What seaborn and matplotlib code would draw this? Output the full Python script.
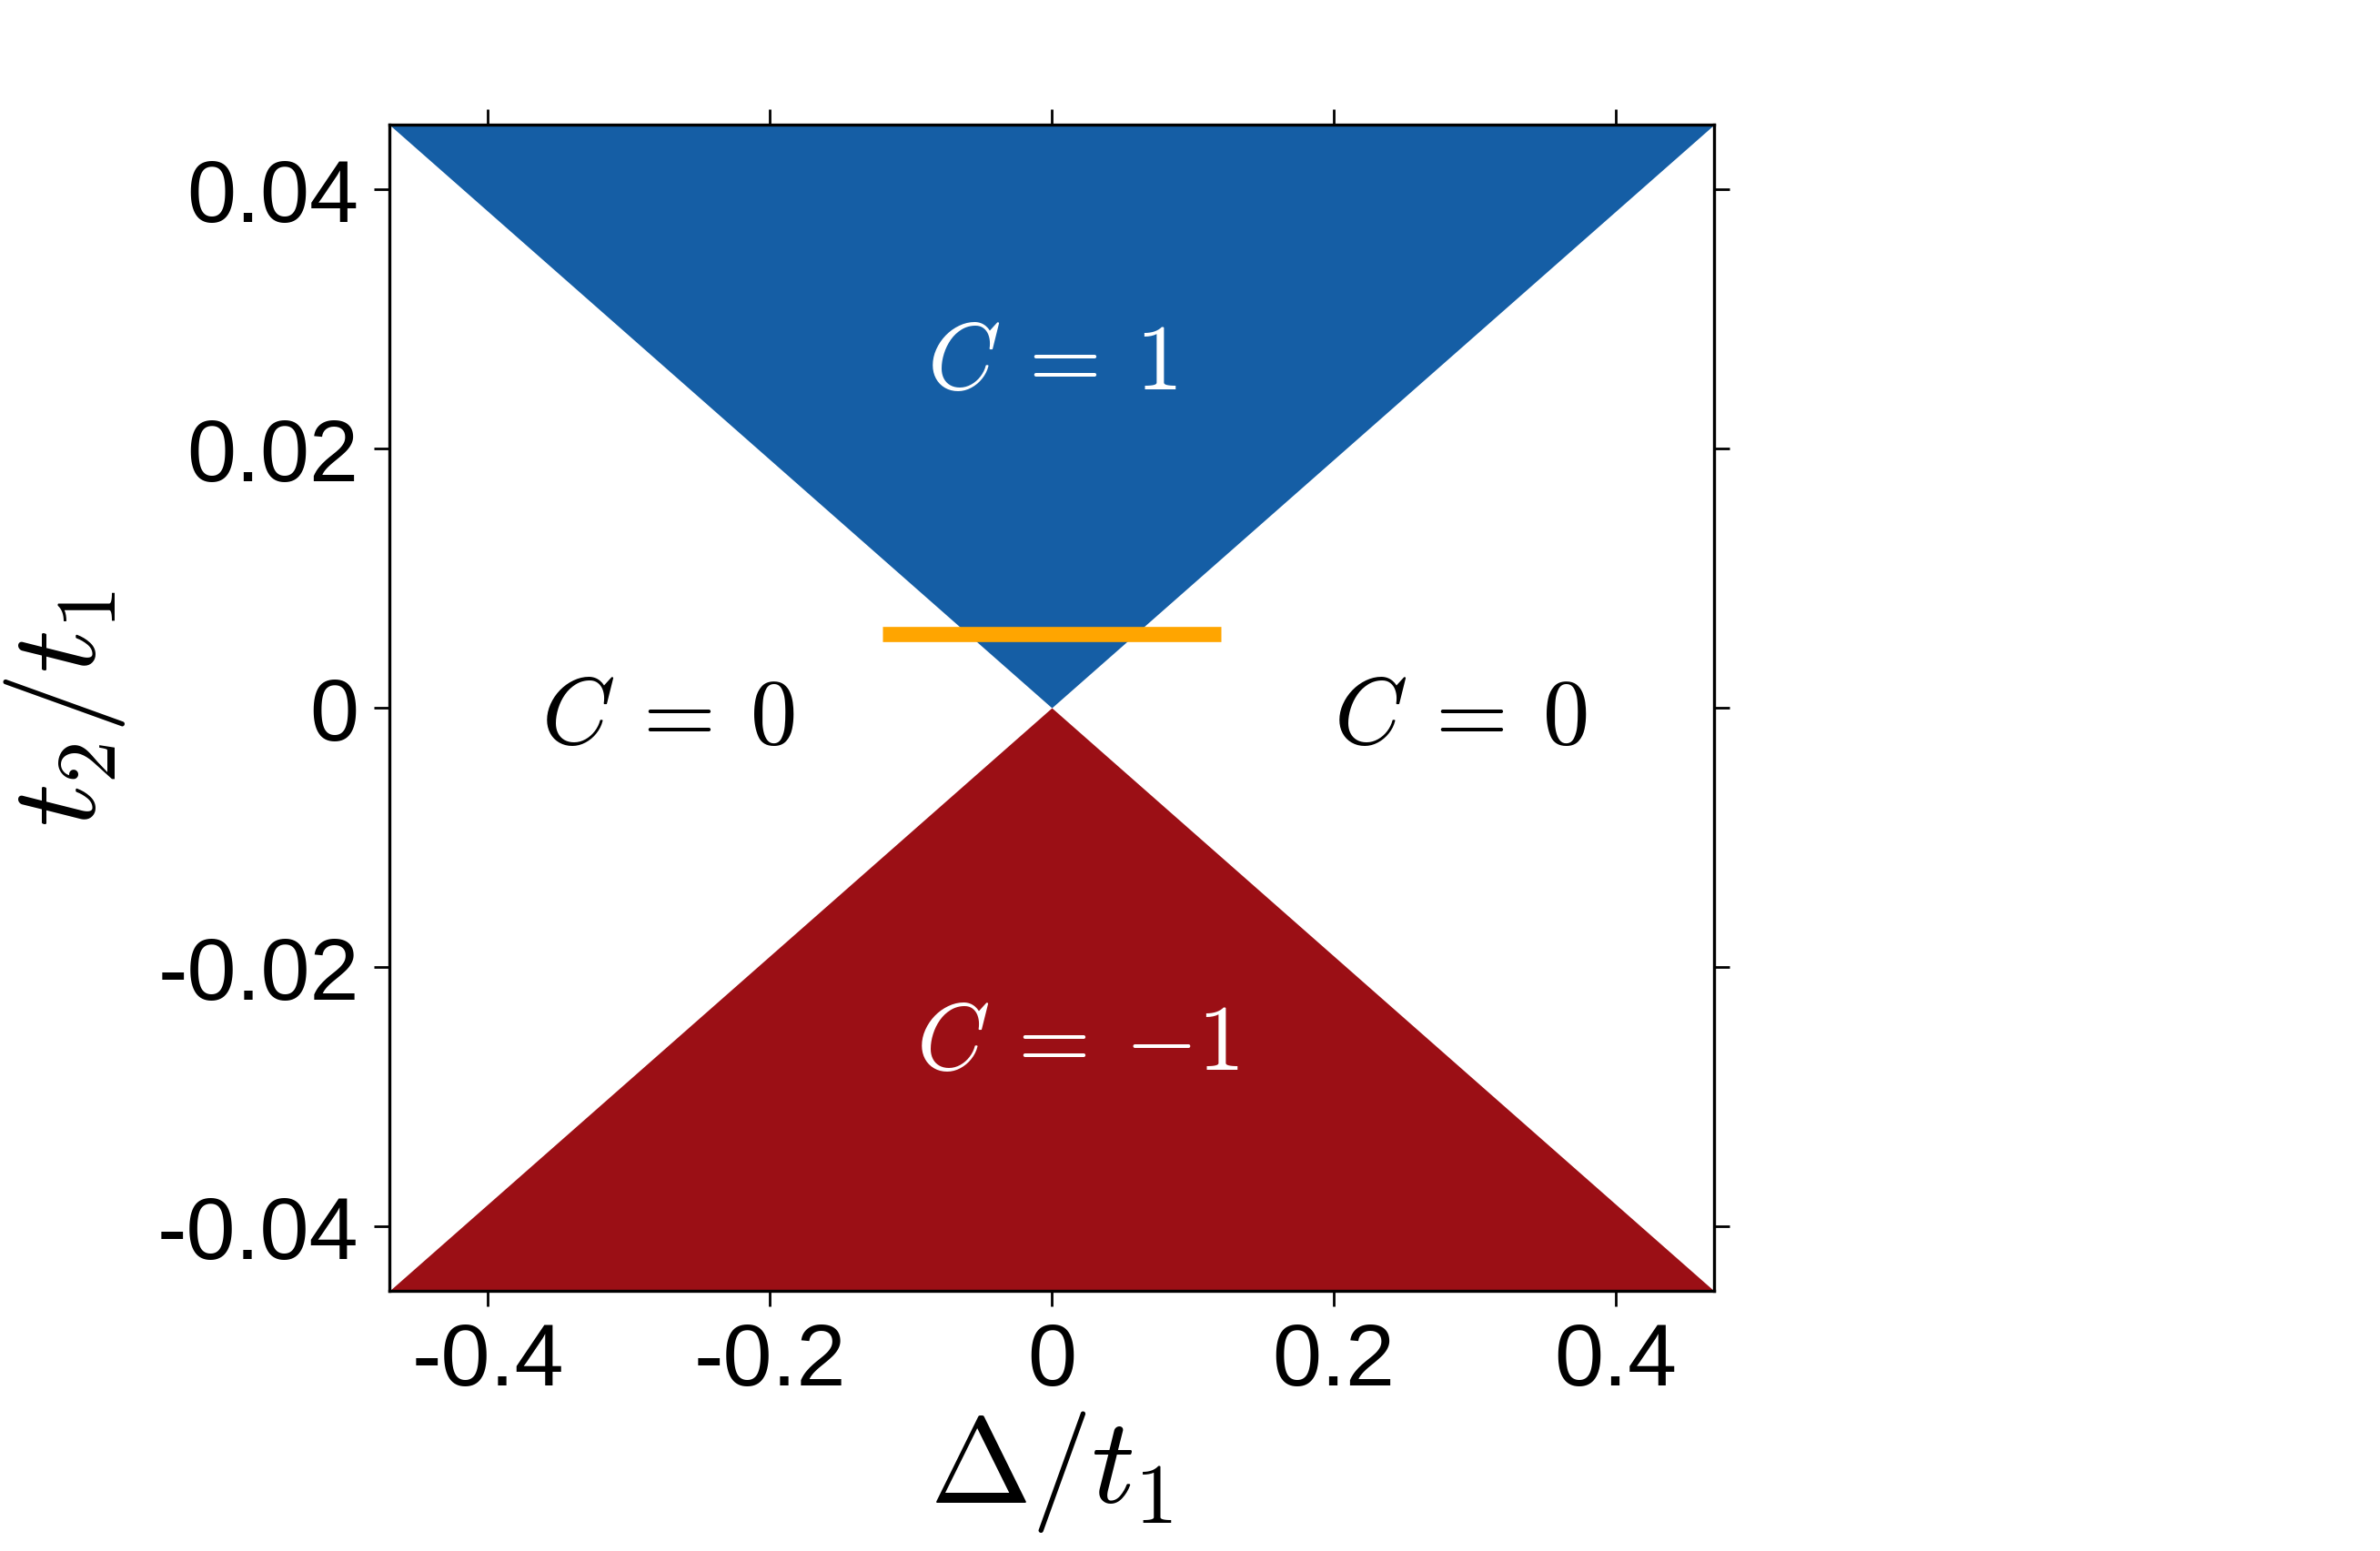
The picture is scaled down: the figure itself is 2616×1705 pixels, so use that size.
import matplotlib
matplotlib.use("Agg")
import matplotlib.pyplot as plt
import seaborn as sns
import numpy as np
import pandas as pd

# ---- data ----
delta_edges = [-0.47, 0.0, 0.47]          # Δ/t1 at the phase-boundary vertices
boundary_t2 = [0.045, 0.0, 0.045]         # |t2/t1| on the phase boundary
t2_limit = 0.045
cut_delta = [-0.12, 0.12]                 # orange cut
cut_t2 = [0.0057, 0.0057]
xticks = [-0.4, -0.2, 0.0, 0.2, 0.4]
xticklabels = ["-0.4", "-0.2", "0", "0.2", "0.4"]
yticks = [-0.04, -0.02, 0.0, 0.02, 0.04]
yticklabels = ["-0.04", "-0.02", "0", "0.02", "0.04"]
label_text = [r"$C\:=\:1$", r"$C\:=\:0$", r"$C\:=\:0$", r"$C\:=\:{-}1$"]
label_x = [0.0, -0.272, 0.29, 0.018]
label_y = [0.0265, -0.0009, -0.0009, -0.026]
label_color = ["white", "black", "black", "white"]

sns.set_style("ticks")
plt.rcParams["font.family"] = ["Liberation Sans", "DejaVu Sans"]
plt.rcParams["mathtext.fontset"] = "cm"
plt.rcParams["axes.unicode_minus"] = False
plt.rcParams["text.color"] = "black"
plt.rcParams["axes.labelcolor"] = "black"
plt.rcParams["xtick.color"] = "black"
plt.rcParams["ytick.color"] = "black"

fig = plt.figure(figsize=(13.08, 8.53), dpi=200)
ax = fig.add_axes([0.1636, 0.1676, 0.7202 - 0.1636, 0.9191 - 0.1676])

d = np.array(delta_edges)
b = np.array(boundary_t2)
ax.fill_between(d, b, t2_limit, color="#155EA5", linewidth=0)
ax.fill_between(d, -t2_limit, -b, color="#9B0F15", linewidth=0)

cut_df = pd.DataFrame({"delta": cut_delta, "t2": cut_t2})
sns.lineplot(data=cut_df, x="delta", y="t2", ax=ax, color="#FFA500",
             linewidth=6.0, solid_capstyle="butt")

for txt, x, y, c in zip(label_text, label_x, label_y, label_color):
    ax.text(x, y, txt, color=c, fontsize=37, ha="center", va="center")

ax.set_xlim(-0.47, 0.47)
ax.set_ylim(-t2_limit, t2_limit)
ax.set_xticks(xticks)
ax.set_xticklabels(xticklabels)
ax.set_yticks(yticks)
ax.set_yticklabels(yticklabels)
ax.tick_params(axis="both", which="major", direction="out", length=6, width=1.0,
               labelsize=35, top=True, right=True, pad=6, colors="black")
for s in ax.spines.values():
    s.set_linewidth(1.2)
    s.set_color("black")

ax.set_xlabel(r"$\Delta/t_1$", fontsize=48, labelpad=2, color="black")
ax.set_ylabel(r"$t_2/t_1$", fontsize=48, labelpad=12, color="black")

fig.savefig("out.png", dpi=200, facecolor="white")
